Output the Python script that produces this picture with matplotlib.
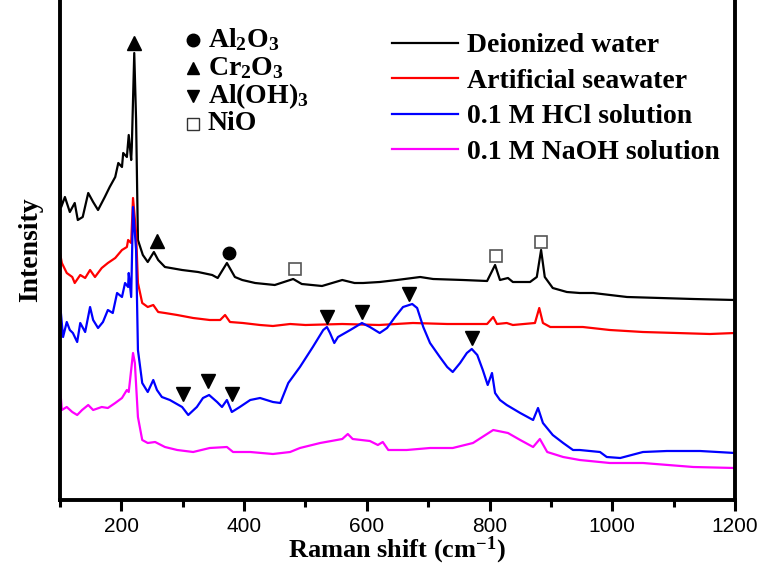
import matplotlib
matplotlib.use("Agg")
import matplotlib.pyplot as plt
from matplotlib.ticker import MultipleLocator

plt.rcParams['font.family'] = 'Liberation Serif'
plt.rcParams['font.weight'] = 'bold'
plt.rcParams['mathtext.fontset'] = 'custom'
plt.rcParams['mathtext.rm'] = 'Liberation Serif:bold'
plt.rcParams['mathtext.bf'] = 'Liberation Serif:bold'
plt.rcParams['mathtext.default'] = 'rm'

# Raman spectra (arbitrary intensity units, offset stacked)
x_di = [100, 102, 108, 116, 124, 129, 137, 146, 154, 162, 173, 181, 190, 195, 201, 203, 209, 212,
        216, 217, 221, 224, 227, 235, 243, 253, 260, 271, 299, 325, 348, 357, 372, 385, 397, 418,
        450, 480, 494, 527, 560, 580, 594, 621, 649, 687, 708, 757, 796, 809, 817, 830, 838, 866,
        877, 884, 890, 903, 926, 947, 969, 1024, 1078, 1132, 1200]
y_di = [340, 293, 303, 288, 297, 280, 283, 307, 298, 290, 303, 313, 323, 337, 333, 347, 343, 365,
        340, 353, 447, 380, 260, 245, 238, 248, 240, 233, 230, 228, 225, 222, 237, 223, 220, 217,
        215, 221, 216, 214, 220, 217, 217, 218, 220, 223, 221, 220, 219, 235, 220, 222, 218, 218,
        223, 250, 223, 212, 208, 207, 207, 203, 202, 201, 200]

x_sw = [100, 103, 111, 120, 124, 133, 141, 149, 157, 168, 178, 190, 201, 209, 211, 216, 219, 224,
        227, 234, 243, 252, 260, 271, 291, 317, 344, 361, 369, 377, 398, 426, 447, 475, 500, 560,
        620, 675, 731, 796, 806, 812, 828, 838, 874, 881, 887, 899, 920, 952, 996, 1050, 1105,
        1159, 1200]
y_sw = [247, 237, 227, 223, 217, 225, 222, 230, 223, 232, 237, 242, 250, 253, 260, 257, 302, 267,
        217, 197, 193, 195, 188, 187, 185, 182, 180, 180, 185, 178, 177, 175, 174, 176, 175, 176,
        175, 177, 176, 176, 183, 176, 177, 175, 177, 192, 177, 173, 173, 173, 170, 168, 167,
        166, 167]

x_hcl = [100, 105, 111, 116, 121, 128, 133, 141, 149, 154, 162, 170, 178, 186, 193, 201, 206, 211,
         212, 216, 219, 224, 227, 234, 243, 252, 258, 266, 279, 299, 309, 323, 333, 343, 356, 364,
         372, 380, 393, 410, 426, 447, 459, 472, 491, 512, 529, 535, 540, 547, 553, 573, 592, 605,
         621, 633, 646, 659, 674, 682, 692, 703, 719, 731, 740, 752, 763, 771, 780, 789, 797, 804,
         809, 817, 828, 850, 871, 879, 887, 903, 920, 936, 947, 980, 991, 1013, 1050, 1089, 1143,
         1200]
y_hcl = [197, 163, 178, 170, 167, 158, 177, 168, 193, 180, 172, 178, 190, 187, 207, 203, 217, 213,
         227, 203, 293, 250, 150, 117, 108, 120, 110, 103, 100, 93, 85, 93, 102, 105, 98, 93,
         100, 88, 93, 100, 102, 98, 97, 117, 133, 153, 170, 173, 167, 157, 163, 170, 177, 173,
         167, 172, 183, 193, 196, 192, 173, 157, 143, 133, 128, 137, 147, 151, 145, 130, 115, 127,
         107, 100, 95, 87, 80, 92, 77, 65, 57, 50, 50, 48, 43, 42, 48, 49, 49,
         47]

x_naoh = [100, 103, 111, 120, 128, 136, 146, 154, 168, 178, 190, 201, 209, 212, 219, 222, 227, 234,
          243, 255, 271, 291, 317, 344, 372, 382, 410, 447, 475, 491, 524, 560, 569, 577, 605, 618,
          626, 635, 665, 703, 740, 773, 806, 830, 850, 871, 882, 894, 920, 947, 996, 1050, 1132,
          1200]
y_naoh = [113, 90, 93, 88, 85, 90, 95, 90, 93, 92, 97, 102, 110, 108, 147, 137, 83, 60,
          57, 58, 53, 50, 48, 52, 53, 48, 48, 46, 48, 52, 57, 61, 66, 61, 59, 55,
          58, 50, 50, 52, 52, 57, 70, 67, 60, 53, 61, 48, 43, 40, 37, 37, 33,
          32]

# phase assignments marked on the spectra
al2o3_x, al2o3_y = [375], [247]
cr2o3_x, cr2o3_y = [221, 258], [457, 259]
aloh3_x = [300, 341, 380, 535, 592, 669, 771]
aloh3_y = [106, 119, 106, 183, 188, 206, 162]
nio_x, nio_y = [483, 810, 884], [231, 244, 258]

fig = plt.figure(figsize=(7.61, 5.67), dpi=100)
ax = fig.add_axes([60 / 761, 67 / 567, 675 / 761, 500 / 567])

ax.plot(x_di, y_di, color='black', lw=1.6, label='Deionized water')
ax.plot(x_sw, y_sw, color='red', lw=1.6, label='Artificial seawater')
ax.plot(x_hcl, y_hcl, color='blue', lw=1.6, label='0.1 M HCl solution')
ax.plot(x_naoh, y_naoh, color='magenta', lw=1.6, label='0.1 M NaOH solution')

ax.plot(al2o3_x, al2o3_y, 'o', color='black', ms=9, ls='none')
ax.plot(cr2o3_x, cr2o3_y, '^', color='black', ms=10, ls='none')
ax.plot(aloh3_x, aloh3_y, 'v', color='black', ms=10, ls='none')
ax.plot(nio_x, nio_y, 's', mfc='white', mec='#555555', mew=1.2, ms=8, ls='none')

# marker key
keys = [('o', 'black', r'Al$_2$O$_3$'), ('^', 'black', r'Cr$_2$O$_3$'),
        ('v', 'black', r'Al(OH)$_3$'), ('s', 'white', 'NiO')]
for i, (m, c, t) in enumerate(keys):
    yy = 0.92 - i * 0.056
    ax.plot([0.197], [yy], m, color='black', mfc=c, mec='#333333' if c == 'white' else 'black',
            ms=9 if m != 's' else 8, transform=ax.transAxes, clip_on=False)
    ax.text(0.219, yy, t, transform=ax.transAxes, fontsize=20, fontweight='bold',
            va='center', ha='left')

ax.legend(loc='upper left', bbox_to_anchor=(0.471, 0.962), frameon=False,
          handlelength=2.4, handletextpad=0.3, labelspacing=0.36, borderpad=0,
          prop={'family': 'Liberation Serif', 'weight': 'bold', 'size': 20})

ax.set_xlim(100, 1200)
ax.set_ylim(0, 500)
ax.xaxis.set_major_locator(MultipleLocator(200))
ax.xaxis.set_minor_locator(MultipleLocator(100))
ax.set_yticks([])
ax.spines['top'].set_visible(False)
for s in ['left', 'right', 'bottom']:
    ax.spines[s].set_linewidth(2.8)
ax.tick_params(axis='x', which='major', direction='out', length=8, width=2.2, pad=4)
ax.tick_params(axis='x', which='minor', direction='out', length=5, width=2.2)
for lab in ax.get_xticklabels():
    lab.set_fontfamily('Liberation Sans')
    lab.set_fontweight('normal')
    lab.set_fontsize(15)

fig.text(397 / 761, 10 / 567, r'Raman shift (cm$^{-1}$)', fontsize=19, fontweight='bold',
         ha='center', va='baseline')
ax.set_ylabel('Intensity', fontsize=20, fontweight='bold', labelpad=12)

fig.savefig('out.png', dpi=100)
